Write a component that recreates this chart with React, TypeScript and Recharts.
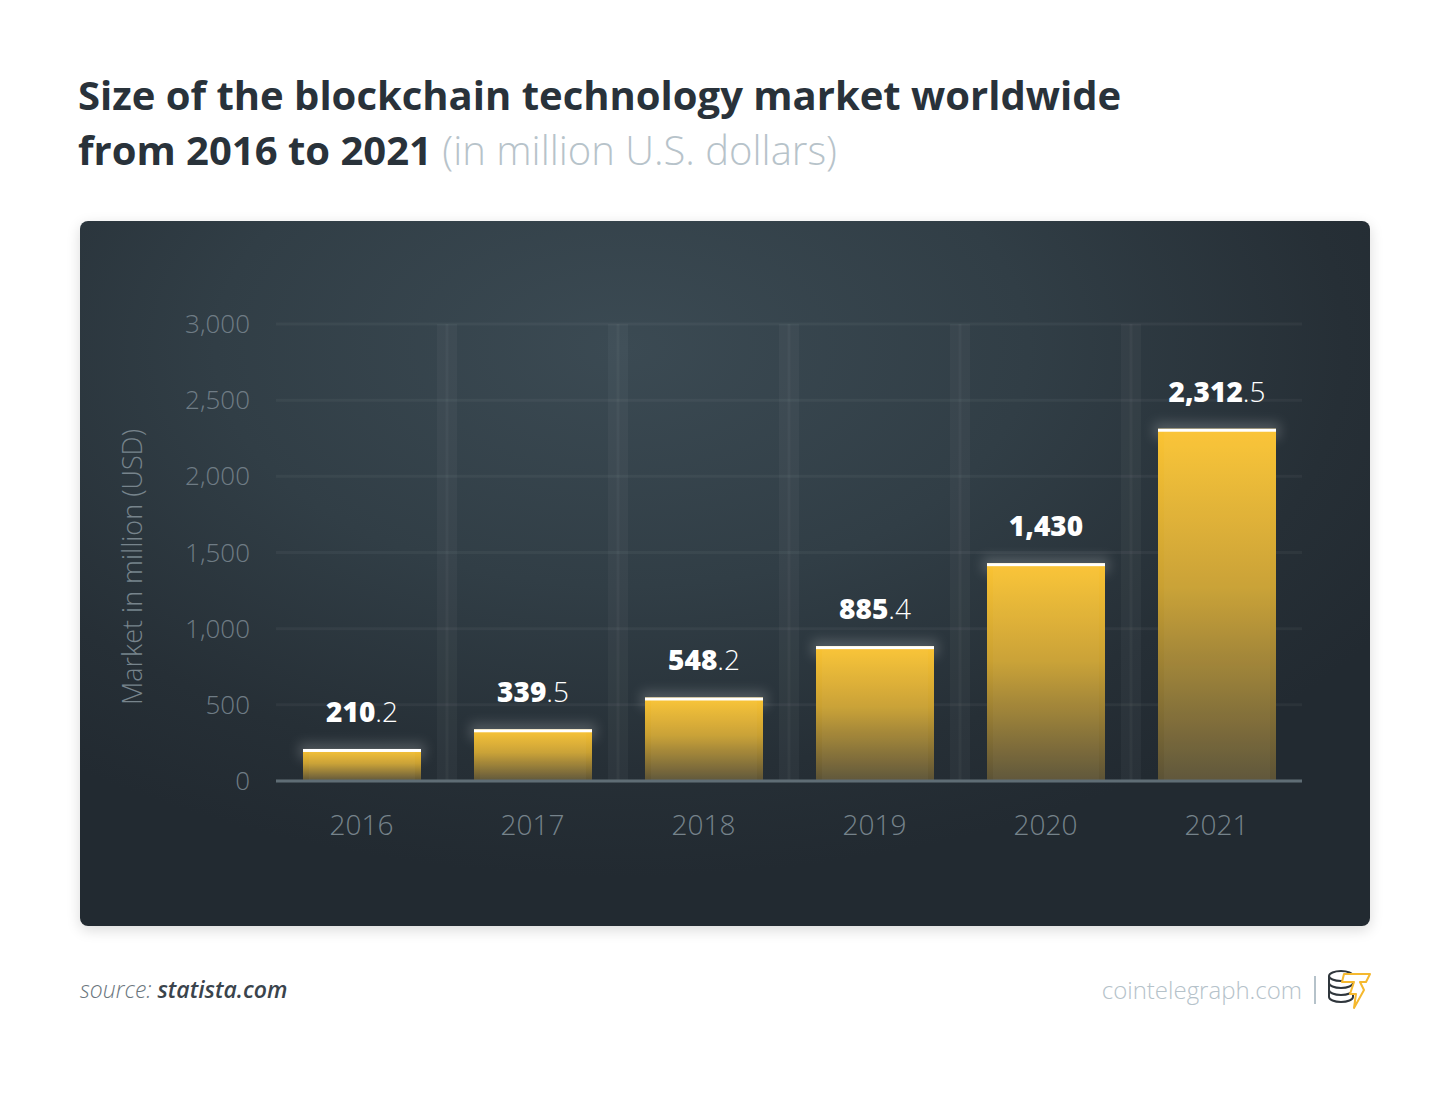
import React from "react";
import { Bar, BarChart, CartesianGrid, LabelList, ReferenceLine, XAxis, YAxis } from "recharts";

const YEARS = ["2016", "2017", "2018", "2019", "2020", "2021"];
const MARKET = [210.2, 339.5, 548.2, 885.4, 1430, 2312.5];
const Y_TICKS = [0, 500, 1000, 1500, 2000, 2500, 3000];

const data = YEARS.map((year, i) => ({ year, value: MARKET[i] }));

const FONT = "'Open Sans', 'Noto Sans', sans-serif";

function YTick({ x, y, payload }: any) {
  return (
    <text x={x - 2} y={y} dy={9} textAnchor="end" fontFamily={FONT} fontWeight={300} fontSize={26} fill="#6f7c85">
      {Number(payload.value).toLocaleString("en-US")}
    </text>
  );
}

function XTick({ x, y, payload }: any) {
  return (
    <text x={x} y={y} dy={46} textAnchor="middle" fontFamily={FONT} fontWeight={300} fontSize={28} fill="#76838b">
      {payload.value}
    </text>
  );
}

function GoldBar({ x, y, width, height }: any) {
  if (!height || height <= 0) return null;
  return (
    <g>
      <rect x={x - 4} y={y - 6} width={width + 8} height={16} fill="#ffffff" opacity={0.18} filter="url(#glow)" />
      <rect x={x} y={y} width={width} height={height} fill="url(#goldFill)" />
      <rect x={x + 6} y={y} width={width - 12} height={height} fill="#ffffff" opacity={0.03} />
      <rect x={x} y={y} width={width} height={3} fill="#ffffff" />
    </g>
  );
}

function ValueLabel({ x, y, width, value }: any) {
  const [whole, dec] = Number(value).toLocaleString("en-US").split(".");
  return (
    <text x={x + width / 2} y={y - 27} textAnchor="middle" fontFamily={FONT} fontSize={28} fill="#ffffff">
      <tspan fontWeight={800}>{whole}</tspan>
      {dec ? <tspan fontWeight={300}>{"." + dec}</tspan> : null}
    </text>
  );
}

function Logo() {
  return (
    <svg width={48} height={44} viewBox="0 0 48 44">
      <g fill="none" stroke="#2f363c" strokeWidth={2}>
        <ellipse cx={15} cy={8} rx={12} ry={5} />
        <path d="M3 8 v7 a12 5 0 0 0 24 0 v-7" />
        <path d="M3 15 v7 a12 5 0 0 0 24 0 v-7" />
        <path d="M3 22 v7 a12 5 0 0 0 24 0 v-7" />
      </g>
      <path d="M18 6 L44 6 L40 14 L34 14 L38 22 L28 40 L30 26 L24 26 L28 14 L16 14 Z" fill="#ffffff" stroke="#f5b82e" strokeWidth={2} strokeLinejoin="round" />
    </svg>
  );
}

const stripeCoords = ({ offset }: any) =>
  YEARS.slice(1).map((_, i) => offset.left + ((i + 1) * offset.width) / YEARS.length);

export default function App() {
  return (
    <div style={{ position: "absolute", left: 0, top: 0, width: 1450, height: 1093, background: "#ffffff", fontFamily: FONT, overflow: "hidden" }}>
      <div style={{ position: "absolute", left: 78, top: 67, fontSize: 40, lineHeight: "55px", fontWeight: 700, color: "#29323a", whiteSpace: "nowrap" }}>
        <div>Size of the blockchain technology market worldwide</div>
        <div>
          from 2016 to 2021 <span style={{ fontWeight: 300, color: "#b7c3ca" }}>(in million U.S. dollars)</span>
        </div>
      </div>

      <div
        style={{
          position: "absolute",
          left: 80,
          top: 221,
          width: 1290,
          height: 705,
          borderRadius: 8,
          background: "radial-gradient(ellipse 70% 75% at 42% 18%, #3b4a53 0%, #313e46 45%, #262f36 80%, #222a31 100%)",
          boxShadow: "0 4px 14px rgba(0,0,0,0.15)",
        }}
      >
        <div style={{ position: "absolute", left: 51, top: 346, width: 0, height: 0, whiteSpace: "nowrap" }}>
          <div style={{ position: "absolute", transform: "translate(-50%, -50%) rotate(-90deg)", fontSize: 27, fontWeight: 300, color: "#77848c" }}>
            Market in million (USD)
          </div>
        </div>

        <BarChart width={1290} height={705} data={data} margin={{ top: 103, right: 68, left: 0, bottom: 0 }} barSize={118}>
          <defs>
            <linearGradient id="goldFill" x1="0" y1="0" x2="0" y2="1">
              <stop offset="0%" stopColor="#fbc433" />
              <stop offset="45%" stopColor="#c9a032" />
              <stop offset="100%" stopColor="#5b5236" />
            </linearGradient>
            <filter id="glow" x="-20%" y="-200%" width="140%" height="500%">
              <feGaussianBlur stdDeviation="6" />
            </filter>
          </defs>
          <CartesianGrid vertical={false} stroke="rgba(255,255,255,0.045)" strokeWidth={3} />
          <CartesianGrid horizontal={false} stroke="rgba(255,255,255,0.035)" strokeWidth={20} verticalCoordinatesGenerator={stripeCoords} />
          <CartesianGrid horizontal={false} stroke="rgba(255,255,255,0.035)" strokeWidth={3} verticalCoordinatesGenerator={stripeCoords} />
          <XAxis dataKey="year" height={145} axisLine={false} tickLine={false} tick={<XTick />} interval={0} />
          <YAxis width={196} domain={[0, 3000]} ticks={Y_TICKS} axisLine={false} tickLine={false} tick={<YTick />} tickMargin={18} />
          <Bar dataKey="value" shape={<GoldBar />} isAnimationActive={false}>
            <LabelList dataKey="value" content={<ValueLabel />} />
          </Bar>
          <ReferenceLine y={0} stroke="#5f6d75" strokeWidth={3} />
        </BarChart>
      </div>

      <div style={{ position: "absolute", left: 80, top: 973, fontSize: 23, fontStyle: "italic", whiteSpace: "nowrap" }}>
        <span style={{ fontWeight: 300, color: "#6b767e" }}>source: </span>
        <span style={{ fontWeight: 600, color: "#3a444c" }}>statista.com</span>
      </div>

      <div style={{ position: "absolute", right: 148, top: 973, fontSize: 24, fontWeight: 300, color: "#b5c2ca", whiteSpace: "nowrap" }}>
        cointelegraph.com
      </div>
      <div style={{ position: "absolute", left: 1314, top: 976, width: 1.5, height: 28, background: "#b5c2ca" }} />
      <div style={{ position: "absolute", left: 1326, top: 968 }}>
        <Logo />
      </div>
    </div>
  );
}
